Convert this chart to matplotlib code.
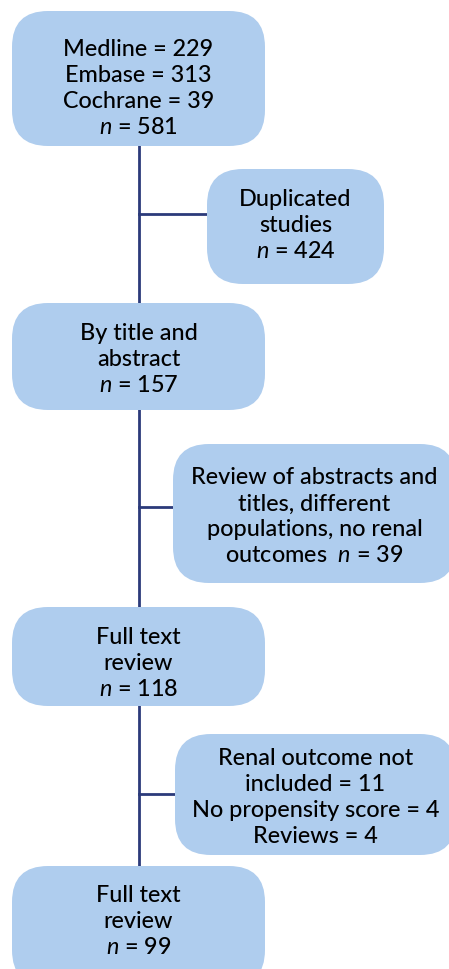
import matplotlib.pyplot as plt
from matplotlib.patches import FancyBboxPatch

plt.rcParams['font.family'] = ['Lato', 'DejaVu Sans']
plt.rcParams['mathtext.fontset'] = 'custom'
plt.rcParams['mathtext.rm'] = 'Lato'
plt.rcParams['mathtext.it'] = 'Lato:italic'

# Текст блоков
main_texts = [
    ["Medline = 229", "Embase = 313", "Cochrane = 39", r"$\mathit{n}$ = 581"],
    ["By title and", "abstract", r"$\mathit{n}$ = 157"],
    ["Full text", "review", r"$\mathit{n}$ = 118"],
    ["Full text", "review", r"$\mathit{n}$ = 99"],
]
side_texts = [
    ["Duplicated", "studies", r"$\mathit{n}$ = 424"],
    ["Review of abstracts and", "titles, different", "populations, no renal",
     r"outcomes  $\mathit{n}$ = 39"],
    ["Renal outcome not", "included = 11", "No propensity score = 4", "Reviews = 4"],
]

# Геометрия (пиксели): x, y, w, h, центр текста по y
main_boxes = [(12, 12, 253, 135, 89), (12, 304, 253, 107, 360),
              (12, 608, 253, 99, 664), (12, 867, 253, 120, 922)]
side_boxes = [(207, 170, 177, 115, 225), (173, 445, 283, 139, 517),
              (175, 735, 281, 121, 798)]
branch_y = [215, 508, 795]
spine_x = 139
fill = '#AFCDEE'
line_col = '#2B3A7A'
lh = 26

fig = plt.figure(figsize=(4.49, 9.70), dpi=100)
ax = fig.add_axes([0, 0, 1, 1])
ax.set_xlim(0, 449)
ax.set_ylim(970, 0)
ax.set_axis_off()

# Линии
ax.plot([spine_x, spine_x], [147, 867], color=line_col, lw=2, zorder=1)
for b, by in zip(side_boxes, branch_y):
    ax.plot([spine_x, b[0]], [by, by], color=line_col, lw=2, zorder=1)


def draw_box(box, lines):
    x, y, w, h, cy = box
    ax.add_patch(FancyBboxPatch((x, y), w, h, boxstyle="round,pad=0,rounding_size=36",
                                fc=fill, ec='none', zorder=2))
    cx = x + w / 2
    n = len(lines)
    for i, t in enumerate(lines):
        ty = cy + (i - (n - 1) / 2) * lh
        ax.text(cx, ty, t, ha='center', va='center', fontsize=16.8,
                fontweight='medium', color='#000000', zorder=3)


for b, t in zip(main_boxes, main_texts):
    draw_box(b, t)
for b, t in zip(side_boxes, side_texts):
    draw_box(b, t)

fig.savefig('out.png', dpi=100)
